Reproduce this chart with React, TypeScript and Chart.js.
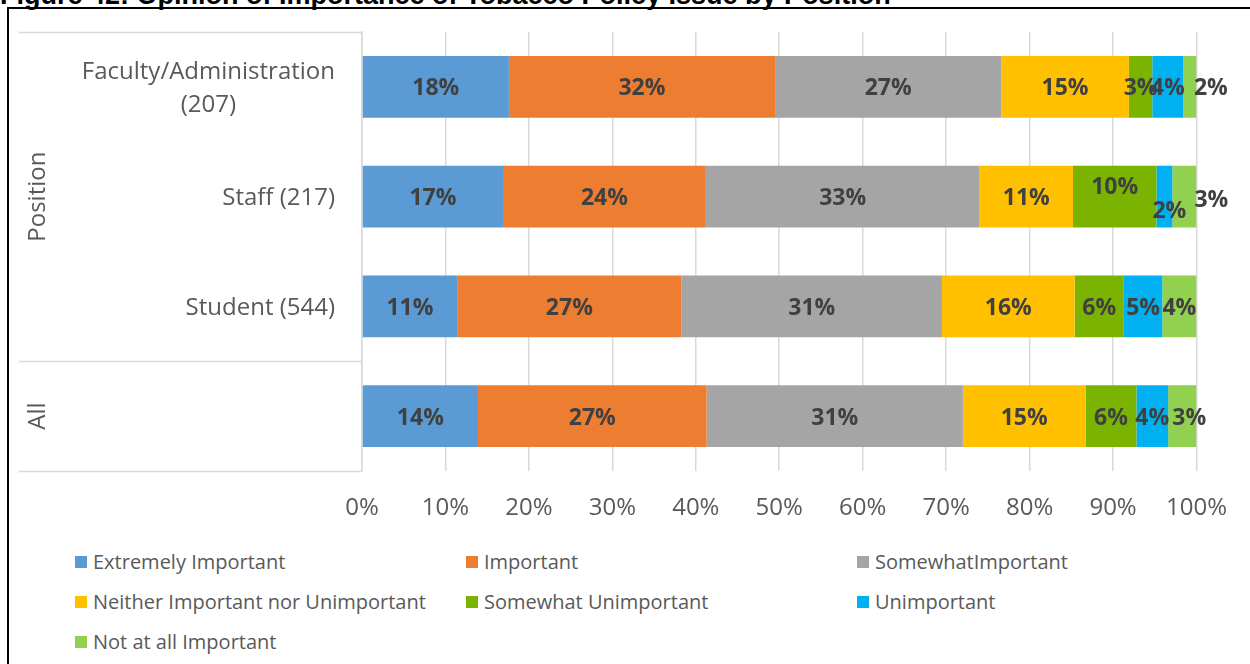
import React, { useEffect, useRef } from "react";
import { Chart, registerables } from "chart.js";

Chart.register(...registerables);

// ---------- Data ----------
const categoryLines: string[][] = [
  ["Faculty/Administration", "(207)"],
  ["Staff (217)"],
  ["Student (544)"],
  [""],
];
const groupNames = ["Position", "All"];
const groupSpans = [3, 1];

const seriesNames = [
  "Extremely Important",
  "Important",
  "SomewhatImportant",
  "Neither Important nor Unimportant",
  "Somewhat Unimportant",
  "Unimportant",
  "Not at all Important",
];
const extremelyImportant = [17.6, 16.9, 11.4, 13.9];
const important = [31.9, 24.3, 26.9, 27.4];
const somewhatImportant = [27.1, 32.8, 31.2, 30.7];
const neitherImportant = [15.3, 11.2, 15.9, 14.7];
const somewhatUnimportant = [2.8, 10.0, 5.9, 6.1];
const unimportant = [3.7, 1.9, 4.6, 3.8];
const notAtAllImportant = [1.6, 2.9, 4.1, 3.4];

const xTicks = [0, 10, 20, 30, 40, 50, 60, 70, 80, 90, 100];

// ---------- Styles ----------
const seriesColors = ["#5B9BD5", "#ED7D31", "#A5A5A5", "#FFC000", "#7AB400", "#00B0F0", "#92D050"];
// manual label nudges ("dataset-index": [dx, dy]) as in the reference
const labelNudges: Record<string, [number, number]> = {
  "6-0": [21, 0],
  "4-1": [0, -11],
  "5-1": [5, 13],
  "6-1": [27, 2],
  "6-3": [7, 0],
};
const FONT = "'Open Sans', 'Noto Sans', sans-serif";
const AXIS_COLOR = "#595959";
const GRID_COLOR = "#D9D9D9";

const seriesValues = [
  extremelyImportant,
  important,
  somewhatImportant,
  neitherImportant,
  somewhatUnimportant,
  unimportant,
  notAtAllImportant,
];

const dataLabelPlugin = {
  id: "dataLabels",
  afterDatasetsDraw(chart: any) {
    const ctx = chart.ctx;
    ctx.save();
    ctx.font = `bold 23px ${FONT}`;
    ctx.fillStyle = "#404040";
    ctx.textAlign = "center";
    ctx.textBaseline = "middle";
    chart.data.datasets.forEach((ds: any, di: number) => {
      const meta = chart.getDatasetMeta(di);
      meta.data.forEach((el: any, i: number) => {
        const v = ds.data[i];
        const p = el.getCenterPoint();
        const n = labelNudges[`${di}-${i}`] || [0, 0];
        ctx.fillText(`${Math.round(v)}%`, p.x + n[0], p.y + 2 + n[1]);
      });
    });
    ctx.restore();
  },
};

const categoryAxisPlugin = {
  id: "categoryAxis",
  afterDraw(chart: any) {
    const ctx = chart.ctx;
    const area = chart.chartArea;
    const yScale = chart.scales.y;
    const n = categoryLines.length;
    const step = (area.bottom - area.top) / n;
    ctx.save();
    // horizontal separators
    ctx.strokeStyle = GRID_COLOR;
    ctx.lineWidth = 1.5;
    const bounds = [0];
    let acc = 0;
    groupSpans.forEach((s) => {
      acc += s;
      bounds.push(acc);
    });
    bounds.forEach((b) => {
      const y = Math.round(area.top + b * step) + 0.5;
      ctx.beginPath();
      ctx.moveTo(19, y);
      ctx.lineTo(area.left, y);
      ctx.stroke();
    });
    // category labels (block right-aligned, lines centered)
    ctx.font = `24px ${FONT}`;
    ctx.fillStyle = AXIS_COLOR;
    ctx.textAlign = "center";
    ctx.textBaseline = "middle";
    categoryLines.forEach((lines, i) => {
      const y = yScale.getPixelForValue(i) + 2;
      const maxW = Math.max(...lines.map((l) => ctx.measureText(l).width));
      const cx = area.left - 27 - maxW / 2;
      lines.forEach((l, j) => {
        ctx.fillText(l, cx, y + (j - (lines.length - 1) / 2) * 33);
      });
    });
    // group labels (rotated)
    let start = 0;
    groupNames.forEach((g, gi) => {
      const end = start + groupSpans[gi];
      const cy = area.top + ((start + end) / 2) * step;
      ctx.save();
      ctx.translate(38, cy);
      ctx.rotate(-Math.PI / 2);
      ctx.fillText(g, 0, 0);
      ctx.restore();
      start = end;
    });
    ctx.restore();
  },
};

function BarChart() {
  const ref = useRef<HTMLCanvasElement | null>(null);
  useEffect(() => {
    if (!ref.current) return;
    const chart = new Chart(ref.current, {
      type: "bar",
      data: {
        labels: categoryLines.map((l) => l.join(" ")),
        datasets: seriesNames.map((name, i) => ({
          label: name,
          data: seriesValues[i],
          backgroundColor: seriesColors[i],
          borderWidth: 0,
          barPercentage: 0.564,
          categoryPercentage: 1,
        })),
      },
      options: {
        indexAxis: "y",
        animation: false,
        responsive: false,
        maintainAspectRatio: false,
        layout: { padding: { left: 0, top: 32, right: 52, bottom: 0 } },
        plugins: {
          legend: { display: false },
          tooltip: { enabled: false },
          title: { display: false },
        },
        scales: {
          x: {
            stacked: true,
            min: 0,
            max: 100,
            afterBuildTicks: (s: any) => {
              s.ticks = xTicks.map((v) => ({ value: v }));
            },
            afterFit: (s: any) => {
              s.height = 69;
            },
            ticks: {
              padding: 23,
              color: AXIS_COLOR,
              font: { family: FONT, size: 24 },
              callback: (v: any) => `${v}%`,
              maxRotation: 0,
              autoSkip: false,
            },
            grid: { color: GRID_COLOR, lineWidth: 1.5, drawTicks: false },
            border: { display: false },
          },
          y: {
            stacked: true,
            afterFit: (s: any) => {
              s.width = 362;
            },
            ticks: { display: false },
            grid: { display: false, drawTicks: false },
            border: { display: true, color: GRID_COLOR, width: 1.5 },
          },
        },
      },
      plugins: [dataLabelPlugin, categoryAxisPlugin],
    } as any);
    return () => chart.destroy();
  }, []);
  return <canvas ref={ref} width={1250} height={540} style={{ position: "absolute", left: 0, top: 0 }} />;
}

export default function App() {
  return (
    <div
      style={{
        position: "absolute",
        left: 0,
        top: 0,
        width: 1250,
        height: 664,
        overflow: "hidden",
        background: "#fff",
      }}
    >
      <div
        style={{
          position: "absolute",
          left: 0,
          top: -18,
          fontFamily: "'Liberation Sans', Arial, sans-serif",
          fontWeight: "bold",
          fontSize: 27,
          lineHeight: "27px",
          whiteSpace: "nowrap",
          color: "#000",
        }}
      >
        Figure 42: Opinion of Importance of Tobacco Policy Issue by Position
      </div>
      <div
        style={{
          position: "absolute",
          left: 7,
          top: 7,
          width: 1300,
          height: 700,
          border: "2px solid #000",
          boxSizing: "border-box",
        }}
      />
      <BarChart />
      {seriesNames.map((name, i) => (
        <div
          key={name}
          style={{
            position: "absolute",
            left: 75 + (i % 3) * 391,
            top: 552 + Math.floor(i / 3) * 40,
            height: 20,
            display: "flex",
            alignItems: "center",
            whiteSpace: "nowrap",
            fontFamily: FONT,
            fontSize: 20,
            color: AXIS_COLOR,
          }}
        >
          <span
            style={{
              display: "inline-block",
              width: 12,
              height: 12,
              background: seriesColors[i],
              marginRight: 6,
            }}
          />
          <span style={{ lineHeight: "20px" }}>{name}</span>
        </div>
      ))}
    </div>
  );
}
